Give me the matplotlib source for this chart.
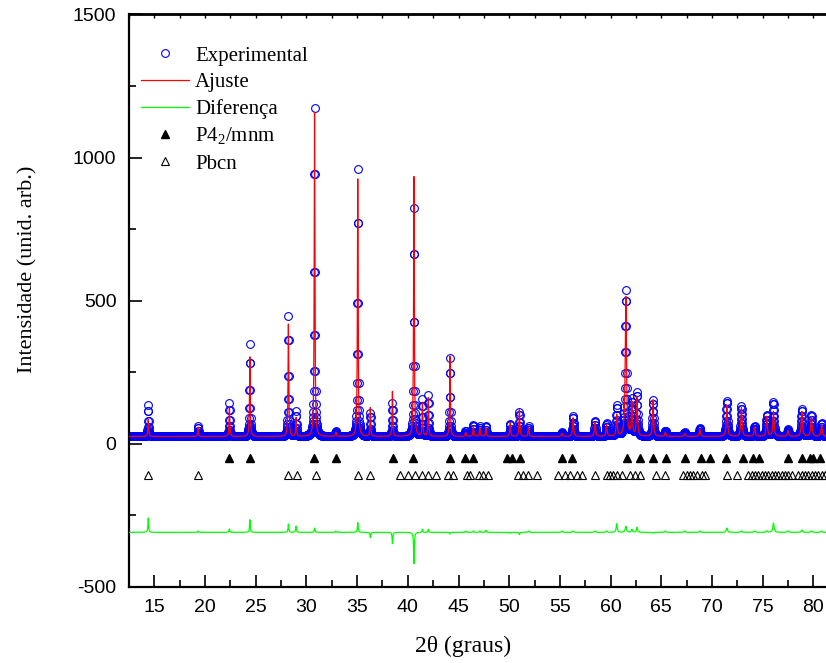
import numpy as np
import matplotlib
matplotlib.use("Agg")
from matplotlib import pyplot as plt
from matplotlib.ticker import MultipleLocator

plt.rcParams['mathtext.fontset'] = 'custom'
plt.rcParams['mathtext.rm'] = 'Liberation Serif'
plt.rcParams['axes.unicode_minus'] = False

# scan grid (2theta, degrees)
THETA_START = 12.5
THETA_END = 81.3
STEP = 0.02
BACKGROUND = 25.0
DIFF_OFFSET = -310.0

peak_pos = [14.40, 19.32, 22.40, 24.42, 28.22, 28.98, 30.80, 32.90, 35.06, 36.30,
            38.48, 40.60, 41.44, 42.02, 44.16, 45.70, 46.46, 47.10, 47.70, 50.10,
            51.00, 51.90, 55.20, 56.30, 58.46, 59.60, 60.60, 61.50, 62.10, 62.60,
            64.18, 65.40, 67.30, 68.80, 71.46, 72.90, 74.20, 75.40, 76.06, 77.50,
            78.86, 79.80, 80.80]
peak_obs = [135, 63, 142, 347, 446, 112, 1173, 45, 959, 107,
            142, 823, 153, 170, 300, 45, 65, 60, 62, 70,
            110, 60, 40, 95, 80, 70, 130, 534, 150, 177,
            150, 45, 40, 55, 150, 130, 60, 100, 145, 50,
            120, 100, 70]
peak_fit = [85, 58, 130, 303, 417, 90, 1158, 40, 925, 125,
            182, 933, 142, 160, 306, 40, 60, 55, 55, 73,
            118, 55, 35, 90, 75, 65, 100, 513, 140, 160,
            153, 40, 35, 50, 135, 125, 55, 95, 112, 45,
            112, 95, 65]
peak_fwhm = [0.08, 0.08, 0.08, 0.08, 0.08, 0.08, 0.08, 0.08, 0.08, 0.08,
             0.08, 0.08, 0.08, 0.08, 0.08, 0.10, 0.10, 0.10, 0.10, 0.10,
             0.10, 0.10, 0.12, 0.12, 0.12, 0.12, 0.12, 0.14, 0.12, 0.12,
             0.12, 0.12, 0.12, 0.12, 0.14, 0.14, 0.14, 0.14, 0.14, 0.14,
             0.14, 0.14, 0.14]

# reflection markers
p42_pos = [22.41, 24.44, 30.78, 32.92, 38.51, 40.55, 44.16, 45.64, 46.46, 49.75,
           50.25, 51.07, 55.18, 56.17, 61.59, 62.90, 64.21, 65.46, 67.34, 68.92,
           69.80, 71.38, 73.03, 74.08, 74.67, 77.53, 78.85, 79.67, 79.99, 80.60]
pbcn_pos = [14.41, 19.34, 28.22, 29.04, 30.95, 35.06, 36.27, 39.23, 40.05, 40.71,
            41.37, 42.02, 42.78, 43.99, 44.49, 45.81, 46.13, 47.05, 47.45, 47.94,
            50.90, 51.39, 51.88, 52.71, 54.84, 55.50, 55.99, 56.66, 57.15, 58.46,
            59.62, 59.94, 60.27, 60.60, 61.09, 61.91, 62.41, 62.90, 64.48, 65.37,
            67.17, 67.51, 67.83, 68.16, 68.49, 68.98, 69.31, 71.45, 72.44, 73.58,
            73.92, 74.24, 74.57, 74.90, 75.23, 75.55, 75.89, 76.21, 76.54, 76.87,
            77.20, 77.53, 77.86, 78.51, 78.85, 79.17, 79.50, 79.83, 80.16, 80.48,
            80.82, 81.14]
P42_LEVEL = -50
PBCN_LEVEL = -110


def profile(x, tops):
    y = np.full_like(x, BACKGROUND)
    for p, h, w in zip(peak_pos, tops, peak_fwhm):
        hw = w / 2.0
        y += (h - BACKGROUND) / (1.0 + ((x - p) / hw) ** 2)
    return y


tt = np.arange(THETA_START, THETA_END + STEP / 2, STEP)
y_obs = profile(tt, peak_obs)
y_fit = profile(tt, peak_fit)
y_diff = y_obs - y_fit + DIFF_OFFSET

fig = plt.figure(figsize=(8.26, 6.63), dpi=100)
ax = fig.add_axes([129 / 826, 76.3 / 663, 697 / 826, 572.2 / 663])

ax.plot(tt, y_obs, 'o', ls='none', mfc='none', mec='#0000ff', ms=5.6, mew=0.8,
        label='Experimental', zorder=2)
ax.plot(tt, y_fit, '-', color='#ff0000', lw=0.9, label='Ajuste', zorder=3)
ax.plot(tt, y_diff, '-', color='#00ff00', lw=0.9, label='Diferença', zorder=3)
ax.plot(p42_pos, [P42_LEVEL] * len(p42_pos), '^', ls='none', color='black',
        ms=6, label=r'P4$_{\mathrm{2}}$/mnm')
ax.plot(pbcn_pos, [PBCN_LEVEL] * len(pbcn_pos), '^', ls='none', mfc='none',
        mec='black', mew=0.8, ms=6, label='Pbcn')

ax.set_xlim(12.5, 81.24)
ax.set_ylim(-500, 1500)
ax.xaxis.set_major_locator(MultipleLocator(5))
ax.xaxis.set_minor_locator(MultipleLocator(2.5))
ax.yaxis.set_major_locator(MultipleLocator(500))
ax.yaxis.set_minor_locator(MultipleLocator(250))
ax.tick_params(which='major', direction='in', length=9, width=1.2, pad=9)
ax.tick_params(which='minor', direction='in', length=5, width=1.2)
ax.tick_params(labelsize=14)
for lab in ax.get_xticklabels() + ax.get_yticklabels():
    lab.set_family('Liberation Sans')

sec = ax.secondary_xaxis('top')
sec.xaxis.set_major_locator(MultipleLocator(2.5))
sec.tick_params(direction='in', length=3, width=1.0, labeltop=False)

ax.spines['right'].set_visible(False)
for s in ['left', 'bottom']:
    ax.spines[s].set_linewidth(1.6)
ax.spines['top'].set_linewidth(1.3)
sec.spines['top'].set_linewidth(1.3)

ax.set_ylabel('Intensidade (unid. arb.)', family='Liberation Serif', fontsize=16)
ax.yaxis.set_label_coords(-0.132, 0.555)
ax.set_xlabel('2θ (graus)', family='Liberation Serif', fontsize=17)
ax.xaxis.set_label_coords(0.48, -0.085)

leg = ax.legend(loc='upper left', bbox_to_anchor=(0.017, 0.945), frameon=False,
                prop={'family': 'Liberation Serif', 'size': 15},
                handlelength=2.3, handletextpad=0.3, labelspacing=0.33,
                borderpad=0, borderaxespad=0)

fig.savefig('out.png', dpi=100)
